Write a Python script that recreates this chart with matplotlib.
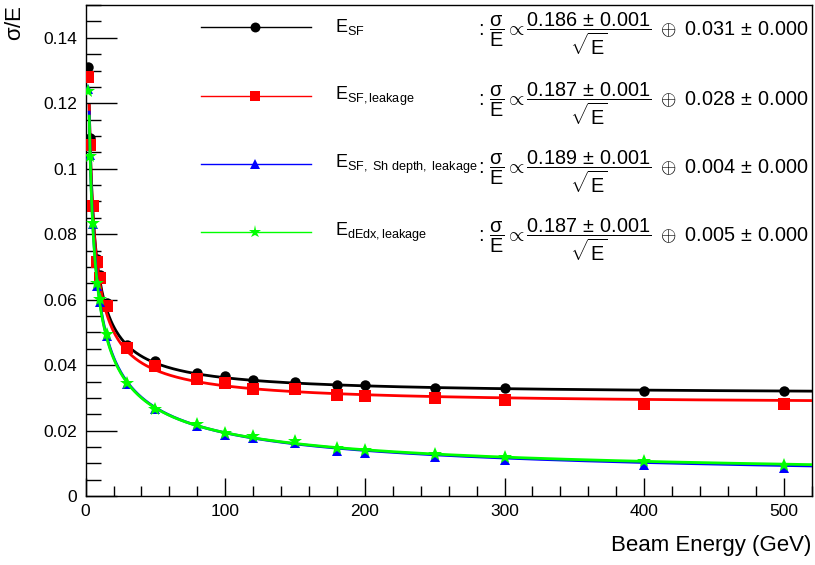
import numpy as np
import matplotlib
matplotlib.use("Agg")
import matplotlib.pyplot as plt
from matplotlib.lines import Line2D

plt.rcParams['font.family'] = ['Liberation Sans', 'DejaVu Sans']
plt.rcParams['mathtext.fontset'] = 'custom'
plt.rcParams['mathtext.rm'] = 'Liberation Sans'
plt.rcParams['mathtext.it'] = 'Liberation Sans'
plt.rcParams['mathtext.bf'] = 'Liberation Sans:bold'

# beam energies (GeV)
energy = [2, 3, 5, 8, 10, 15, 30, 50, 80, 100, 120, 150, 180, 200, 250, 300, 400, 500]

# sigma/E
res_sf = [0.1312, 0.1094, 0.0885, 0.0723, 0.0675, 0.0590, 0.0463, 0.0412, 0.0376, 0.0366,
          0.0355, 0.0350, 0.0338, 0.0338, 0.0331, 0.0330, 0.0321, 0.0321]
res_leak = [0.1280, 0.1073, 0.0886, 0.0716, 0.0667, 0.0581, 0.0453, 0.0397, 0.0358, 0.0346,
            0.0328, 0.0326, 0.0310, 0.0307, 0.0299, 0.0295, 0.0282, 0.0280]
res_depth = [0.1244, 0.1043, 0.0830, 0.0642, 0.0594, 0.0490, 0.0343, 0.0265, 0.0213, 0.0186,
             0.0178, 0.0163, 0.0138, 0.0132, 0.0120, 0.0110, 0.0094, 0.0087]
res_dedx = [0.1238, 0.1038, 0.0835, 0.0652, 0.0602, 0.0495, 0.0345, 0.0267, 0.0219, 0.0194,
            0.0183, 0.0168, 0.0148, 0.0142, 0.0127, 0.0120, 0.0107, 0.0094]

# fit parameters shown in the legend
stoch = [0.186, 0.187, 0.189, 0.187]
const = [0.031, 0.028, 0.004, 0.005]

labels = [r'$\mathregular{E_{SF}}$',
          r'$\mathregular{E_{SF,leakage}}$',
          r'$\mathregular{E_{SF,\ Sh\ depth,\ leakage}}$',
          r'$\mathregular{E_{dEdx,leakage}}$']
colors = ['black', '#ff0000', '#0000ff', '#00ff00']
markers = ['o', 's', '^', '*']
msizes = [7.5, 8, 7.5, 10]

fig, ax = plt.subplots(figsize=(8.15, 5.65), dpi=100)
fig.subplots_adjust(left=0.105, right=0.996, bottom=0.122, top=0.991)

series = [res_sf, res_leak, res_depth, res_dedx]
e_fit = np.linspace(2.6, 520, 800)
for i, res in enumerate(series):
    ax.plot(energy, res, ls='none', marker=markers[i], ms=msizes[i], mew=0,
            color=colors[i], zorder=3 + 2 * i)
    curve = np.sqrt(stoch[i] ** 2 / e_fit + const[i] ** 2)
    ax.plot(e_fit, curve, color=colors[i], lw=2, zorder=4 + 2 * i)

ax.set_xlim(0, 520)
ax.set_ylim(0, 0.15)
ax.set_xticks(np.arange(0, 501, 100))
ax.set_xticks(np.arange(0, 521, 20), minor=True)
ax.set_yticks(np.arange(0, 0.141, 0.02))
ax.set_yticks(np.arange(0, 0.151, 0.005), minor=True)
ax.set_yticklabels(['0', '0.02', '0.04', '0.06', '0.08', '0.1', '0.12', '0.14'])
ax.tick_params(axis='x', which='major', direction='in', length=13, width=1, labelsize=12.5, pad=6)
ax.tick_params(axis='x', which='minor', direction='in', length=7, width=1)
ax.tick_params(axis='y', which='major', direction='in', length=22, width=1, labelsize=12.5, pad=6)
ax.tick_params(axis='y', which='minor', direction='in', length=11, width=1)
for s in ax.spines.values():
    s.set_linewidth(1)

ax.set_xlabel('Beam Energy (GeV)', fontsize=16, loc='right')
ax.xaxis.set_label_coords(1.0, -0.08)
ax.set_ylabel(r'$\sigma$/E', fontsize=16, loc='top', va='center')
ax.yaxis.set_label_coords(-0.097, 1.0)

# legend drawn by hand so the formula column lines up
row_y = [0.956, 0.815, 0.676, 0.537]
for i in range(4):
    y = row_y[i]
    ax.add_line(Line2D([0.159, 0.310], [y, y], transform=ax.transAxes, color=colors[i],
                       lw=1, clip_on=False))
    ax.add_line(Line2D([0.234], [y], transform=ax.transAxes, color=colors[i], ls='none',
                       marker=markers[i], ms=msizes[i] * 0.95, mew=0, clip_on=False))
    ax.text(0.344, y, labels[i], transform=ax.transAxes, fontsize=13, va='center', ha='left')
    formula = (r': $\dfrac{\sigma}{E} \propto \dfrac{%.3f\,\pm\,0.001}{\sqrt{E}}\ \oplus\ %.3f\,\pm\,0.000$'
               % (stoch[i], const[i]))
    ax.text(0.541, y - 0.015, formula, transform=ax.transAxes, fontsize=14.3, va='center', ha='left')

plt.savefig('out.png', dpi=100)
